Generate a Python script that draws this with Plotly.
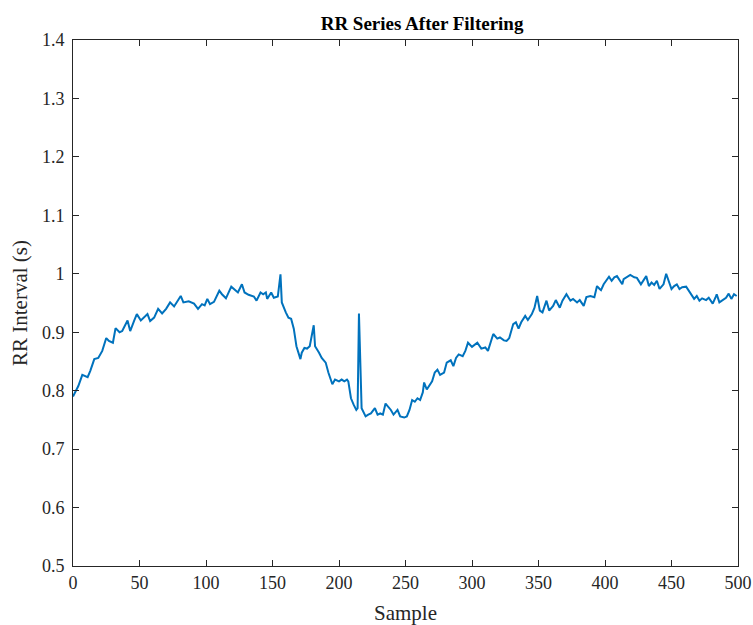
import plotly.graph_objects as go

sample = [0, 2, 4, 7, 11, 13, 16, 19, 22, 25, 27, 30, 32, 35, 37, 41, 43, 46, 48, 51,
          53, 56, 58, 61, 64, 67, 70, 73, 76, 78, 81, 83, 87, 91, 94, 97, 99, 101, 103, 106,
          110, 112, 115, 119, 121, 124, 127, 129, 132, 136, 138, 141, 143, 145, 146, 149, 151, 154, 156, 157,
          160, 162, 164, 166, 168, 171, 172, 174, 176, 178, 181, 182, 185, 187, 190, 192, 195, 197, 200, 202,
          204, 206, 207, 209, 211, 213, 214, 215, 217, 219, 220, 222, 224, 227, 229, 231, 233, 235, 237, 239,
          241, 244, 246, 249, 251, 253, 255, 257, 259, 261, 263, 264, 266, 268, 270, 272, 274, 276, 279, 281,
          284, 286, 288, 290, 293, 295, 297, 300, 304, 307, 310, 312, 314, 316, 319, 321, 324, 326, 328, 331,
          333, 335, 337, 340, 342, 345, 347, 349, 351, 353, 356, 358, 361, 363, 366, 368, 371, 374, 376, 379,
          381, 384, 386, 389, 392, 394, 396, 397, 399, 401, 403, 405, 407, 409, 411, 413, 414, 417, 419, 422,
          424, 427, 429, 431, 433, 435, 437, 439, 441, 444, 446, 448, 450, 452, 454, 456, 458, 461, 463, 465,
          467, 469, 471, 473, 476, 478, 481, 483, 484, 486, 489, 491, 493, 495, 497, 499]

rr = [0.790, 0.799, 0.808, 0.827, 0.823, 0.834, 0.854, 0.856, 0.868, 0.890, 0.885, 0.882, 0.907, 0.900, 0.902, 0.920, 0.902, 0.920, 0.931, 0.920,
      0.925, 0.931, 0.919, 0.925, 0.940, 0.932, 0.940, 0.951, 0.944, 0.951, 0.962, 0.951, 0.953, 0.949, 0.940, 0.948, 0.946, 0.957, 0.948, 0.952,
      0.971, 0.965, 0.958, 0.978, 0.974, 0.968, 0.982, 0.968, 0.964, 0.961, 0.954, 0.968, 0.965, 0.968, 0.957, 0.968, 0.959, 0.961, 0.999, 0.951,
      0.934, 0.925, 0.923, 0.906, 0.876, 0.854, 0.865, 0.873, 0.872, 0.876, 0.912, 0.876, 0.865, 0.856, 0.848, 0.831, 0.811, 0.819, 0.816, 0.819,
      0.816, 0.819, 0.816, 0.787, 0.776, 0.767, 0.770, 0.932, 0.770, 0.759, 0.756, 0.759, 0.761, 0.770, 0.759, 0.761, 0.759, 0.778, 0.773, 0.767,
      0.759, 0.767, 0.756, 0.754, 0.756, 0.767, 0.784, 0.781, 0.787, 0.784, 0.797, 0.814, 0.802, 0.808, 0.816, 0.831, 0.836, 0.827, 0.831, 0.848,
      0.852, 0.842, 0.856, 0.862, 0.859, 0.868, 0.882, 0.875, 0.882, 0.872, 0.874, 0.868, 0.882, 0.897, 0.889, 0.891, 0.886, 0.885, 0.890, 0.914,
      0.917, 0.906, 0.917, 0.928, 0.921, 0.931, 0.942, 0.962, 0.937, 0.934, 0.954, 0.937, 0.945, 0.955, 0.942, 0.954, 0.965, 0.954, 0.957, 0.951,
      0.955, 0.945, 0.960, 0.962, 0.960, 0.979, 0.974, 0.972, 0.982, 0.988, 0.995, 0.988, 0.994, 0.996, 0.988, 0.982, 0.991, 0.996, 0.998, 0.994,
      0.993, 0.982, 0.988, 0.996, 0.979, 0.985, 0.981, 0.988, 0.974, 0.982, 1.000, 0.988, 0.974, 0.979, 0.982, 0.974, 0.977, 0.978, 0.971, 0.965,
      0.957, 0.962, 0.954, 0.958, 0.955, 0.959, 0.949, 0.959, 0.965, 0.951, 0.955, 0.959, 0.966, 0.957, 0.965, 0.962]

x_ticks = [0, 50, 100, 150, 200, 250, 300, 350, 400, 450, 500]
y_ticks = [0.5, 0.6, 0.7, 0.8, 0.9, 1.0, 1.1, 1.2, 1.3, 1.4]
y_tick_text = ["0.5", "0.6", "0.7", "0.8", "0.9", "1", "1.1", "1.2", "1.3", "1.4"]

fig = go.Figure()
fig.add_trace(go.Scatter(x=sample, y=rr, mode="lines",
                         line=dict(color="#0072BD", width=2), showlegend=False))

font_family = "Liberation Serif, Times New Roman, serif"
axis_common = dict(showline=True, linecolor="#262626", linewidth=1, mirror="ticks",
                   ticks="inside", ticklen=6, tickcolor="#262626", tickwidth=1,
                   showgrid=False, zeroline=False, automargin=False,
                   tickfont=dict(family=font_family, size=18, color="#262626"))

fig.update_layout(
    width=753, height=625,
    margin=dict(l=73, r=15, t=40, b=59),
    paper_bgcolor="white", plot_bgcolor="white",
    title=dict(text="<b>RR Series After Filtering</b>", x=0.5605, xanchor="center",
               y=0.962, yanchor="middle",
               font=dict(family=font_family, size=19, color="black")),
    xaxis=dict(range=[0, 500], tickvals=x_ticks, ticktext=[str(v) for v in x_ticks],
               title=dict(text="Sample", font=dict(family=font_family, size=21, color="#262626"),
                          standoff=14),
               **axis_common),
    yaxis=dict(range=[0.5, 1.4], tickvals=y_ticks, ticktext=y_tick_text,
               ticklabelstandoff=4,
               title=dict(text="RR Interval (s)", font=dict(family=font_family, size=21, color="#262626"),
                          standoff=8),
               **axis_common),
)

fig.write_html("out.html", config={"displayModeBar": False},
               post_script="document.body.style.margin='0px';")
